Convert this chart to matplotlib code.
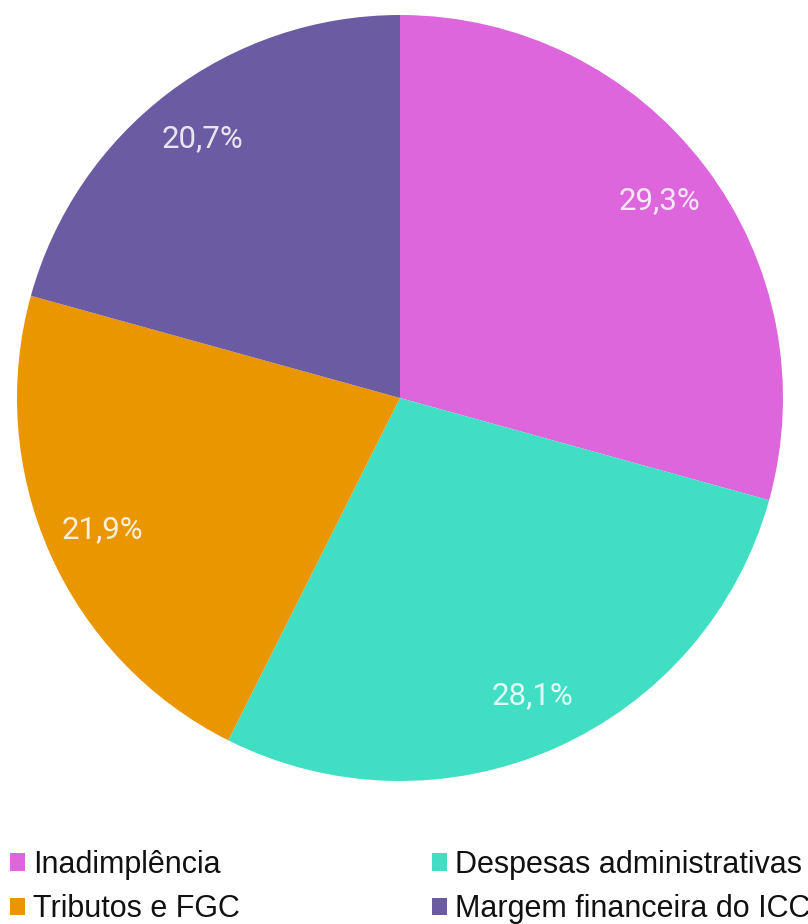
import math
import matplotlib
matplotlib.use("Agg")
import matplotlib.pyplot as plt
from matplotlib.patches import Patch

# dados
categorias = ["Inadimplência", "Despesas administrativas", "Tributos e FGC", "Margem financeira do ICC"]
valores = [29.3, 28.1, 21.9, 20.7]
rotulos = ["29,3%", "28,1%", "21,9%", "20,7%"]
cores = ["#DD66DD", "#40DFC4", "#E99600", "#6B5BA2"]

W, H = 808, 924
fig = plt.figure(figsize=(W / 100, H / 100), dpi=100)

# pizza: centro ~ (400, 398), raio ~ 383 px
cx, cy, r = 400, 398, 383
ax = fig.add_axes([(cx - r) / W, (H - cy - r) / H, 2 * r / W, 2 * r / H])
wedges, _ = ax.pie(valores, colors=cores, startangle=90, counterclock=False,
                   radius=1.0, wedgeprops=dict(linewidth=0))
ax.set_xlim(-1, 1)
ax.set_ylim(-1, 1)
ax.set_aspect("equal")
ax.axis("off")

# rotulos percentuais
ang = 90.0
for v, lab in zip(valores, rotulos):
    meio = ang - v * 3.6 / 2
    ang -= v * 3.6
    x = 0.85 * math.cos(math.radians(meio))
    y = 0.85 * math.sin(math.radians(meio))
    ax.text(x, y, lab, ha="center", va="center", color="white", alpha=0.85,
            fontsize=22.5, family=["Roboto", "DejaVu Sans"])

# legenda (ordem: linha a linha)
fs = 22
fpx = fs * 100 / 72.0
ordem = [0, 2, 1, 3]
handles = [Patch(facecolor=cores[i], edgecolor="none") for i in ordem]
labels = [categorias[i] for i in ordem]
leg = fig.legend(handles, labels, ncol=2, loc="lower left",
                 bbox_to_anchor=(10 / W, 0.0), frameon=False,
                 prop={"family": ["Liberation Sans", "DejaVu Sans"], "size": fs},
                 handlelength=15 / fpx, handleheight=15 / fpx, handletextpad=8 / fpx,
                 columnspacing=192 / fpx, labelspacing=0.46, borderaxespad=0.0,
                 borderpad=0.0)
for t in leg.get_texts():
    t.set_color("#111111")

fig.savefig("out.png", dpi=100)
